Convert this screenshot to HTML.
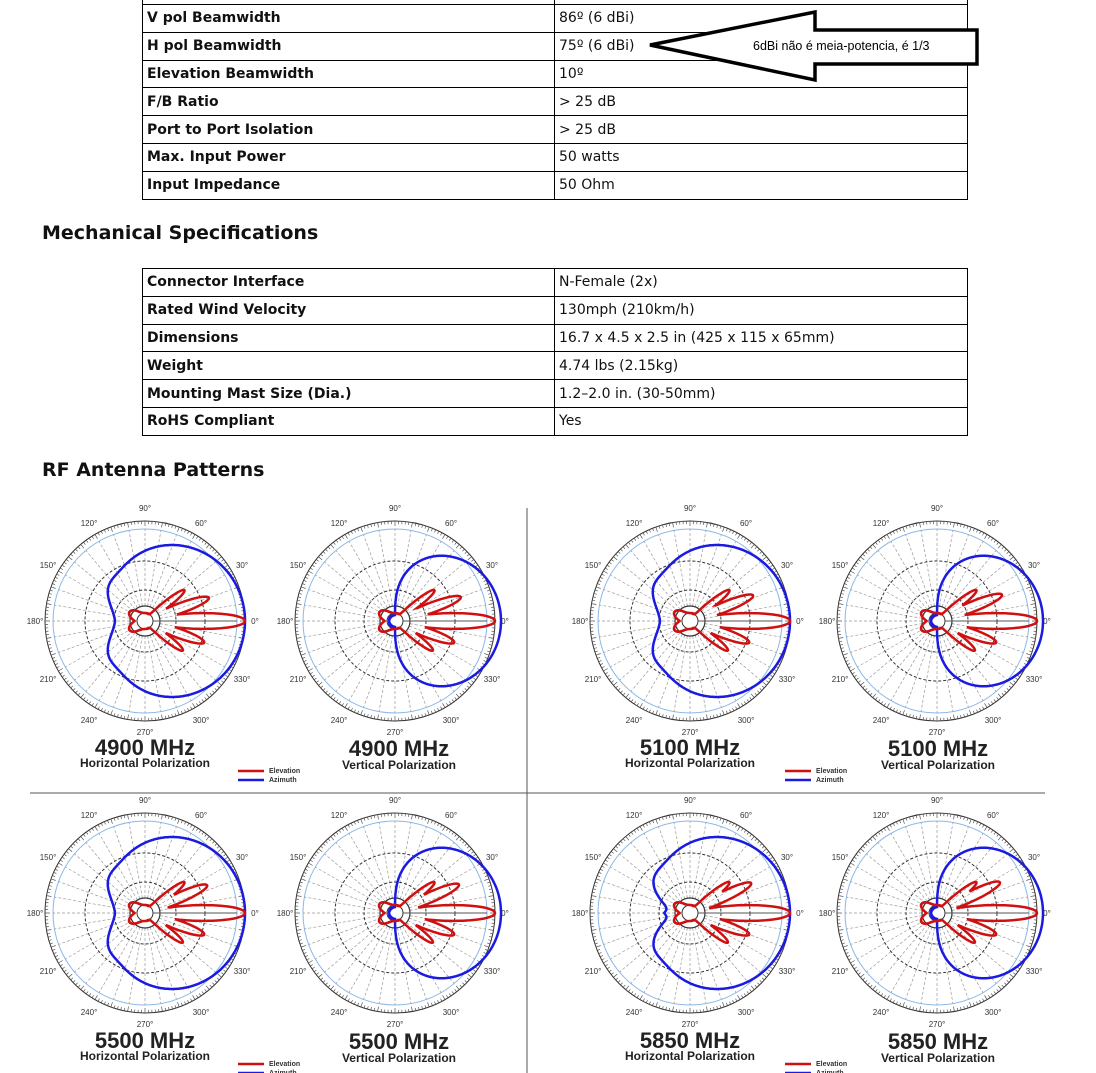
<!DOCTYPE html>
<html><head><meta charset="utf-8"><style>
body{margin:0;background:#fff;width:1096px;height:1073px;overflow:hidden;position:relative;font-family:"DejaVu Sans",Verdana,sans-serif}
table{position:absolute;left:142px;border-collapse:collapse;font-size:14px;width:826px}
td{border:1px solid #000;height:26.8px;padding:0 4px;color:#111;white-space:nowrap}
td:first-child{font-weight:bold;width:403px}
h2{position:absolute;left:42px;margin:0;font-size:19px;font-weight:bold;color:#111}
svg{position:absolute;left:0;top:0}
.l text{font-family:"Liberation Sans",Arial,sans-serif;font-size:8px;fill:#333;text-anchor:middle}
.t{font-family:"Liberation Sans",Arial,sans-serif;font-weight:bold;fill:#222;text-anchor:middle}
</style></head><body>
<table style="top:4px">
<tr><td>V pol Beamwidth</td><td>86º (6 dBi)</td></tr>
<tr><td>H pol Beamwidth</td><td>75º (6 dBi)</td></tr>
<tr><td>Elevation Beamwidth</td><td>10º</td></tr>
<tr><td>F/B Ratio</td><td>&gt; 25 dB</td></tr>
<tr><td>Port to Port Isolation</td><td>&gt; 25 dB</td></tr>
<tr><td>Max. Input Power</td><td>50 watts</td></tr>
<tr><td>Input Impedance</td><td>50 Ohm</td></tr>
</table>
<h2 style="top:222px">Mechanical Specifications</h2>
<table style="top:268px">
<tr><td>Connector Interface</td><td>N-Female (2x)</td></tr>
<tr><td>Rated Wind Velocity</td><td>130mph (210km/h)</td></tr>
<tr><td>Dimensions</td><td>16.7 x 4.5 x 2.5 in (425 x 115 x 65mm)</td></tr>
<tr><td>Weight</td><td>4.74 lbs (2.15kg)</td></tr>
<tr><td>Mounting Mast Size (Dia.)</td><td>1.2–2.0 in. (30-50mm)</td></tr>
<tr><td>RoHS Compliant</td><td>Yes</td></tr>
</table>
<h2 style="top:459px">RF Antenna Patterns</h2>
<div style="position:absolute;left:142px;top:0;width:826px;height:4px;border-left:1px solid #000;border-right:1px solid #000;box-sizing:border-box"></div>
<div style="position:absolute;left:554px;top:0;width:1px;height:4px;background:#000"></div>
<svg width="1096" height="1073" id="s">
<polygon points="650,45 815,12 815,30 977,30 977,64 815,64 815,80" fill="#fff" stroke="#000" stroke-width="3.5" stroke-linejoin="miter"/>
<text x="753" y="50" style="font-family:'Liberation Sans',Arial,sans-serif;font-size:12.5px">6dBi não é meia-potencia, é 1/3</text>
<line x1="527" y1="508" x2="527" y2="1073" stroke="#555"/>
<line x1="30" y1="793" x2="1045" y2="793" stroke="#555"/>
<g id="grids"></g>
<g id="curves"></g>
<g class="l" transform="translate(145,621)"><text x="0" y="-110">90°</text><text x="56" y="-95">60°</text><text x="97" y="-53">30°</text><text x="110" y="3">0°</text><text x="97" y="61">330°</text><text x="56" y="102">300°</text><text x="0" y="114">270°</text><text x="-56" y="102">240°</text><text x="-97" y="61">210°</text><text x="-110" y="3">180°</text><text x="-97" y="-53">150°</text><text x="-56" y="-95">120°</text></g>
<g class="l" transform="translate(395,621)"><text x="0" y="-110">90°</text><text x="56" y="-95">60°</text><text x="97" y="-53">30°</text><text x="110" y="3">0°</text><text x="97" y="61">330°</text><text x="56" y="102">300°</text><text x="0" y="114">270°</text><text x="-56" y="102">240°</text><text x="-97" y="61">210°</text><text x="-110" y="3">180°</text><text x="-97" y="-53">150°</text><text x="-56" y="-95">120°</text></g>
<g class="l" transform="translate(690,621)"><text x="0" y="-110">90°</text><text x="56" y="-95">60°</text><text x="97" y="-53">30°</text><text x="110" y="3">0°</text><text x="97" y="61">330°</text><text x="56" y="102">300°</text><text x="0" y="114">270°</text><text x="-56" y="102">240°</text><text x="-97" y="61">210°</text><text x="-110" y="3">180°</text><text x="-97" y="-53">150°</text><text x="-56" y="-95">120°</text></g>
<g class="l" transform="translate(937,621)"><text x="0" y="-110">90°</text><text x="56" y="-95">60°</text><text x="97" y="-53">30°</text><text x="110" y="3">0°</text><text x="97" y="61">330°</text><text x="56" y="102">300°</text><text x="0" y="114">270°</text><text x="-56" y="102">240°</text><text x="-97" y="61">210°</text><text x="-110" y="3">180°</text><text x="-97" y="-53">150°</text><text x="-56" y="-95">120°</text></g>
<g class="l" transform="translate(145,913)"><text x="0" y="-110">90°</text><text x="56" y="-95">60°</text><text x="97" y="-53">30°</text><text x="110" y="3">0°</text><text x="97" y="61">330°</text><text x="56" y="102">300°</text><text x="0" y="114">270°</text><text x="-56" y="102">240°</text><text x="-97" y="61">210°</text><text x="-110" y="3">180°</text><text x="-97" y="-53">150°</text><text x="-56" y="-95">120°</text></g>
<g class="l" transform="translate(395,913)"><text x="0" y="-110">90°</text><text x="56" y="-95">60°</text><text x="97" y="-53">30°</text><text x="110" y="3">0°</text><text x="97" y="61">330°</text><text x="56" y="102">300°</text><text x="0" y="114">270°</text><text x="-56" y="102">240°</text><text x="-97" y="61">210°</text><text x="-110" y="3">180°</text><text x="-97" y="-53">150°</text><text x="-56" y="-95">120°</text></g>
<g class="l" transform="translate(690,913)"><text x="0" y="-110">90°</text><text x="56" y="-95">60°</text><text x="97" y="-53">30°</text><text x="110" y="3">0°</text><text x="97" y="61">330°</text><text x="56" y="102">300°</text><text x="0" y="114">270°</text><text x="-56" y="102">240°</text><text x="-97" y="61">210°</text><text x="-110" y="3">180°</text><text x="-97" y="-53">150°</text><text x="-56" y="-95">120°</text></g>
<g class="l" transform="translate(937,913)"><text x="0" y="-110">90°</text><text x="56" y="-95">60°</text><text x="97" y="-53">30°</text><text x="110" y="3">0°</text><text x="97" y="61">330°</text><text x="56" y="102">300°</text><text x="0" y="114">270°</text><text x="-56" y="102">240°</text><text x="-97" y="61">210°</text><text x="-110" y="3">180°</text><text x="-97" y="-53">150°</text><text x="-56" y="-95">120°</text></g>

<text class="t" x="145" y="755" font-size="22">4900 MHz</text><text class="t" x="145" y="767" font-size="12">Horizontal Polarization</text>
<text class="t" x="399" y="756" font-size="22">4900 MHz</text><text class="t" x="399" y="769" font-size="12">Vertical Polarization</text>
<text class="t" x="690" y="755" font-size="22">5100 MHz</text><text class="t" x="690" y="767" font-size="12">Horizontal Polarization</text>
<text class="t" x="938" y="756" font-size="22">5100 MHz</text><text class="t" x="938" y="769" font-size="12">Vertical Polarization</text>
<text class="t" x="145" y="1048" font-size="22">5500 MHz</text><text class="t" x="145" y="1060" font-size="12">Horizontal Polarization</text>
<text class="t" x="399" y="1049" font-size="22">5500 MHz</text><text class="t" x="399" y="1062" font-size="12">Vertical Polarization</text>
<text class="t" x="690" y="1048" font-size="22">5850 MHz</text><text class="t" x="690" y="1060" font-size="12">Horizontal Polarization</text>
<text class="t" x="938" y="1049" font-size="22">5850 MHz</text><text class="t" x="938" y="1062" font-size="12">Vertical Polarization</text>

<g style="font-family:'Liberation Sans',Arial,sans-serif;font-size:7px;font-weight:bold;fill:#333">
<line x1="238" y1="771" x2="264" y2="771" stroke="#d01010" stroke-width="2.5"/><line x1="238" y1="780" x2="264" y2="780" stroke="#1a1ae0" stroke-width="2.5"/><text x="269" y="773">Elevation</text><text x="269" y="782">Azimuth</text>
<line x1="785" y1="771" x2="811" y2="771" stroke="#d01010" stroke-width="2.5"/><line x1="785" y1="780" x2="811" y2="780" stroke="#1a1ae0" stroke-width="2.5"/><text x="816" y="773">Elevation</text><text x="816" y="782">Azimuth</text>
<line x1="238" y1="1064" x2="264" y2="1064" stroke="#d01010" stroke-width="2.5"/><line x1="238" y1="1073" x2="264" y2="1073" stroke="#1a1ae0" stroke-width="2.5"/><text x="269" y="1066">Elevation</text><text x="269" y="1075">Azimuth</text>
<line x1="785" y1="1064" x2="811" y2="1064" stroke="#d01010" stroke-width="2.5"/><line x1="785" y1="1073" x2="811" y2="1073" stroke="#1a1ae0" stroke-width="2.5"/><text x="816" y="1066">Elevation</text><text x="816" y="1075">Azimuth</text>
</g>
</svg>
<script>
var NS="http://www.w3.org/2000/svg";
function el(p,t,a){var e=document.createElementNS(NS,t);for(var k in a)e.setAttribute(k,a[k]);p.appendChild(e);return e;}
var G=document.getElementById('grids'),C=document.getElementById('curves');
var cs=[[145,621,'H',0],[395,621,'V',0],[690,621,'H',1],[937,621,'V',1],[145,913,'H',2],[395,913,'V',2],[690,913,'H',3],[937,913,'V',3]];
function path(cx,cy,f){var d='';for(var i=0;i<=720;i++){var t=i/2*Math.PI/180;var r=f(t);d+=(i?'L':'M')+(cx+r*Math.cos(t)).toFixed(1)+' '+(cy-r*Math.sin(t)).toFixed(1);}return d+'Z';}
function g(x,m,s){return Math.exp(-Math.pow((x-m)/s,2));}
cs.forEach(function(c){var cx=c[0],cy=c[1];
 el(G,'circle',{cx:cx,cy:cy,r:100,fill:'none',stroke:'#333','stroke-width':1});
 var d='';for(var a=0;a<360;a+=2){var t=a*Math.PI/180,r2=a%10?97:95;d+='M'+(cx+100*Math.cos(t)).toFixed(1)+' '+(cy-100*Math.sin(t)).toFixed(1)+'L'+(cx+r2*Math.cos(t)).toFixed(1)+' '+(cy-r2*Math.sin(t)).toFixed(1);}
 el(G,'path',{d:d,stroke:'#555','stroke-width':0.7});
 el(G,'circle',{cx:cx,cy:cy,r:92,fill:'none',stroke:'#8ab8e8','stroke-width':1});
 d='';for(var a=0;a<360;a+=10){var t=a*Math.PI/180;d+='M'+(cx+15*Math.cos(t)).toFixed(1)+' '+(cy-15*Math.sin(t)).toFixed(1)+'L'+(cx+92*Math.cos(t)).toFixed(1)+' '+(cy-92*Math.sin(t)).toFixed(1);}
 el(G,'path',{d:d,stroke:'#999','stroke-width':0.7,'stroke-dasharray':'3,2'});
 el(G,'circle',{cx:cx,cy:cy,r:60,fill:'none',stroke:'#333','stroke-width':1,'stroke-dasharray':'3,2'});
 el(G,'circle',{cx:cx,cy:cy,r:31,fill:'none',stroke:'#333','stroke-width':1,'stroke-dasharray':'3,2'});
 el(G,'circle',{cx:cx,cy:cy,r:15,fill:'none',stroke:'#333','stroke-width':1.2});
 el(G,'circle',{cx:cx,cy:cy,r:8,fill:'none',stroke:'#333','stroke-width':1});
 el(G,'line',{x1:cx+8,y1:cy,x2:cx+92,y2:cy,stroke:'#555','stroke-width':1});
 var k=c[3];
 var blue;
 if(c[2]=='H'){blue=function(t){var a=t>Math.PI?t-2*Math.PI:t;var base=0.3+0.7*Math.pow((1+Math.cos(a))/2,0.8);return 100*base+6*g(Math.abs(a),2.4,0.3)-(k==3?8*g(Math.abs(a),2.9,0.3):0);};}
 else{blue=function(t){var c2=Math.cos(t);return c2>0?100*Math.pow(c2,0.55)+6:6;};}
 var red=function(t){var a=t>Math.PI?t-2*Math.PI:t;var deg=a*180/Math.PI;
   return Math.max(92*g(deg,0,10),(c[2]=='H'?60:62)*g(deg,20+k*2,9),55*g(deg,-20,9),42*g(deg,38,8),40*g(deg,-38,8))+10*g(Math.abs(deg),150,25)+8;};
 el(C,'path',{d:path(cx,cy,blue),fill:'none',stroke:'#1a1ae0','stroke-width':2.5});
 el(C,'path',{d:path(cx,cy,red),fill:'none',stroke:'#d01010','stroke-width':2.5});
});
</script>
</body></html>
